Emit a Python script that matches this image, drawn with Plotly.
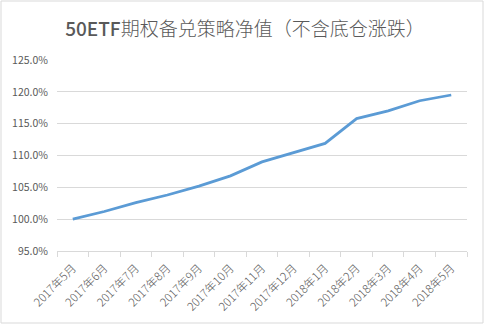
import plotly.graph_objects as go

# Monthly net value of the covered-call strategy (excluding underlying moves)
months = ["2017年5月", "2017年6月", "2017年7月", "2017年8月", "2017年9月",
          "2017年10月", "2017年11月", "2017年12月", "2018年1月", "2018年2月",
          "2018年3月", "2018年4月", "2018年5月"]
net_value = [1.000, 1.012, 1.026, 1.038, 1.052, 1.068, 1.090, 1.105, 1.119,
             1.158, 1.170, 1.186, 1.195]

y_ticks = [0.95, 1.00, 1.05, 1.10, 1.15, 1.20, 1.25]
y_tick_text = ["95.0%", "100.0%", "105.0%", "110.0%", "115.0%", "120.0%", "125.0%"]

grey = "#595959"
font_family = "Noto Sans CJK SC, Microsoft YaHei, sans-serif"

fig = go.Figure()
fig.add_trace(go.Scatter(
    x=months, y=net_value, mode="lines",
    line=dict(color="#5B9BD5", width=2.75),
    hoverinfo="x+y",
))

fig.update_layout(
    width=485, height=325,
    margin=dict(l=57, r=18, t=60, b=74),
    paper_bgcolor="white", plot_bgcolor="white",
    showlegend=False,
    title=dict(
        text="<span style='font-weight:500'>50ETF</span>期权备兑策略净值（不含底仓涨跌）",
        x=0.505, xanchor="center", xref="container",
        y=1 - 29 / 325, yanchor="middle", yref="container",
        font=dict(family=font_family, size=19, color=grey, weight=300),
    ),
    font=dict(family=font_family, size=10, color=grey),
    xaxis=dict(
        type="category",
        tickson="boundaries",
        ticks="outside", ticklen=5, tickcolor="#D9D9D9",
        showline=True, linecolor="#D9D9D9", linewidth=1,
        showgrid=False,
        tickangle=-45,
        ticklabelstandoff=5,
        automargin=False,
        tickfont=dict(size=11.5, color=grey, weight=300),
        range=[-0.5, len(months) - 0.5],
    ),
    yaxis=dict(
        range=[0.95, 1.25],
        tickvals=y_ticks, ticktext=y_tick_text,
        showgrid=True, gridcolor="#D9D9D9", gridwidth=1,
        zeroline=False, showline=False,
        ticks="", ticklabelstandoff=8,
        automargin=False,
        tickfont=dict(size=10.5, color=grey),
    ),
    shapes=[dict(
        type="rect", xref="paper", yref="paper",
        x0=-56 / 410, x1=426 / 410, y0=-72 / 191, y1=250 / 191,
        line=dict(color="#D9D9D9", width=1), layer="below",
    )],
)

fig.write_html("out.html")
